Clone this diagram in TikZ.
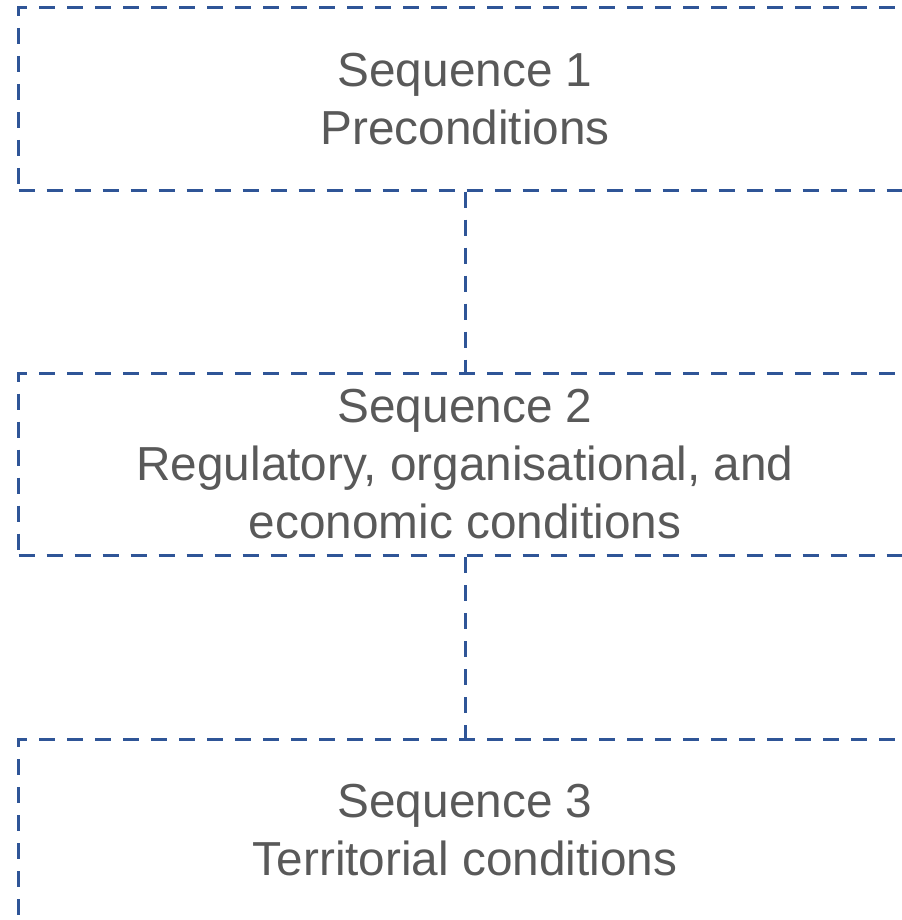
\documentclass[tikz,border=0pt]{standalone}
\usepackage{fontspec}
\setmainfont{Liberation Sans}
\usepackage{tikz}
\usetikzlibrary{positioning}
\definecolor{seqblue}{HTML}{2F5597}
\definecolor{seqgray}{HTML}{595959}

\begin{document}
\begin{tikzpicture}[x=0.75pt,y=-0.75pt,
    seqbox/.style={draw=seqblue,line width=2.25pt,dash pattern=on 12pt off 9pt,
      minimum width=669.75pt,minimum height=136.5pt,inner sep=0pt,
      text=seqgray,align=center,font=\fontsize{35.8}{43.5}\selectfont},
    link/.style={draw=seqblue,line width=2.25pt,dash pattern=on 12pt off 9pt}]
    % Ramme
    \useasboundingbox (0,0) rectangle (902,920);
    \clip (0,0) rectangle (902,920);
    % Sekvenser
    \node[seqbox] (seq1) at (465,99) {Sequence 1\\Preconditions};
    \node[seqbox] (seq2) at (465,464.5) {Sequence 2\\Regulatory, organisational, and\\economic conditions};
    \node[seqbox] (seq3) at (465,830) {Sequence 3\\Territorial conditions};
    % Forbindelser
    \draw[link] (seq1.south) -- (seq2.north);
    \draw[link] (seq2.south) -- (seq3.north);
\end{tikzpicture}
\end{document}
